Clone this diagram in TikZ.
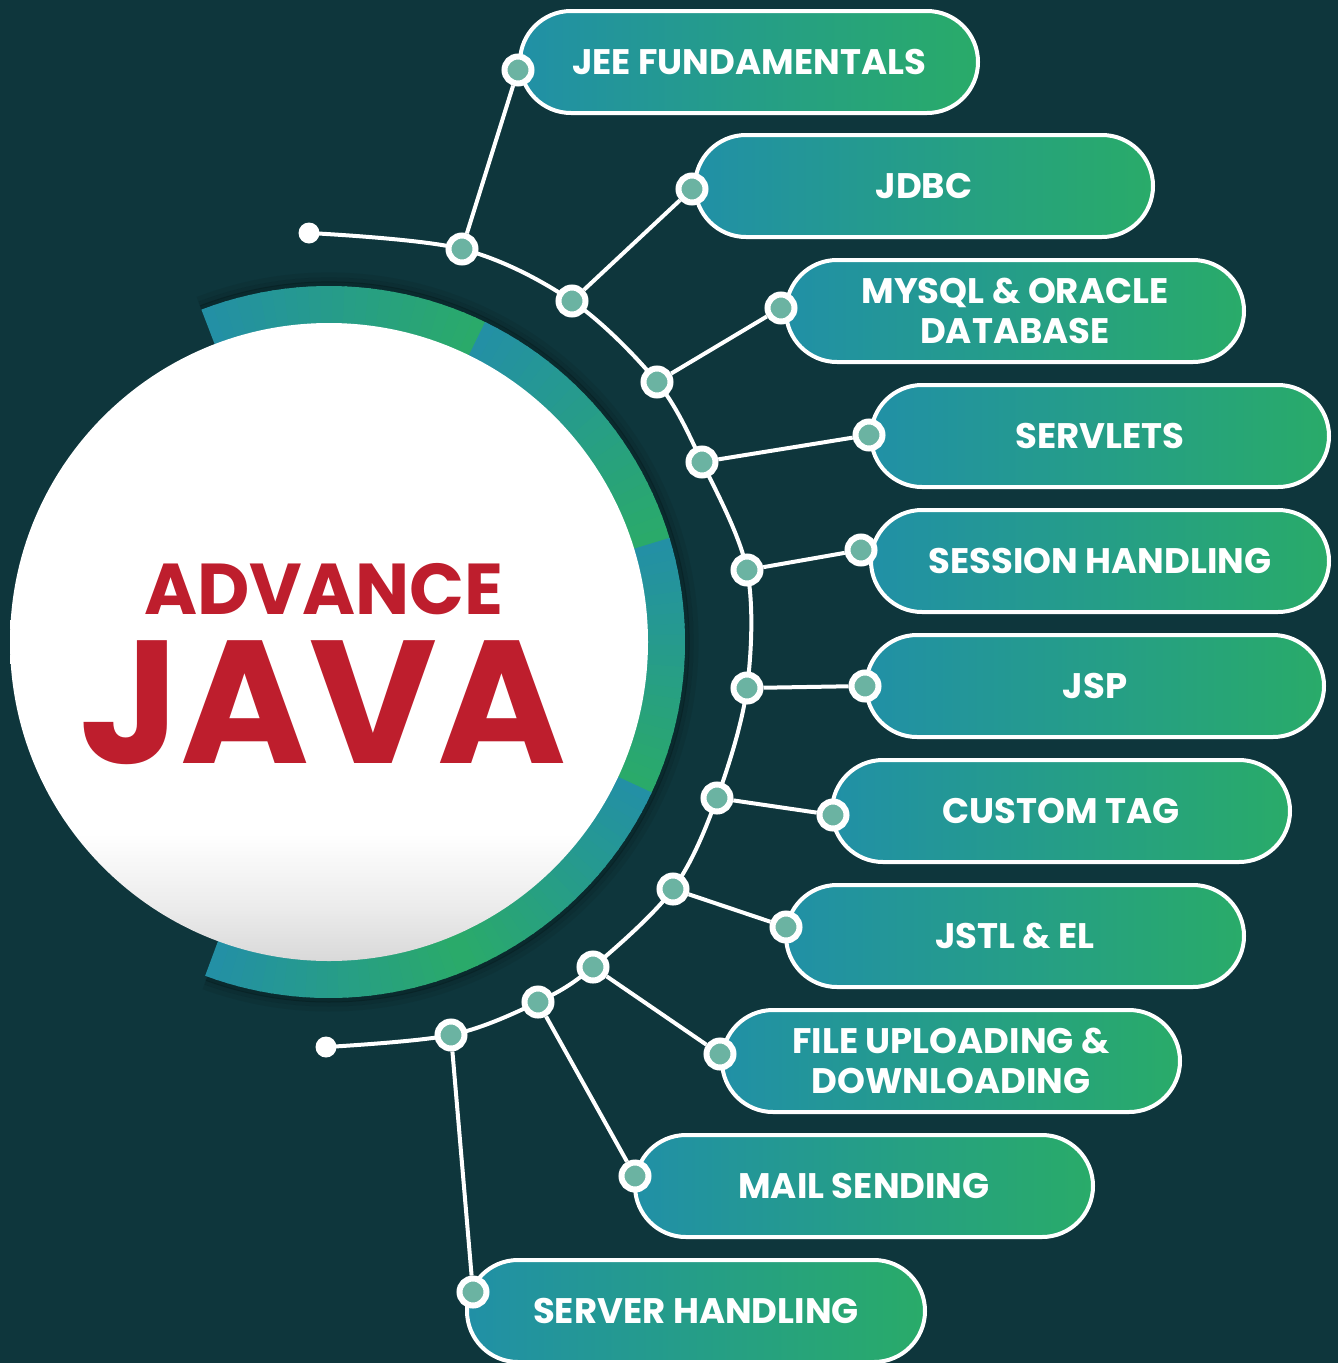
\documentclass[tikz,border=0pt]{standalone}
\usepackage{fontspec}
\setmainfont{Poppins}

\definecolor{bgdark}{HTML}{0E363C}
\definecolor{pillteal}{HTML}{2190A6}
\definecolor{pillgreen}{HTML}{29AB69}
\definecolor{ringteal}{HTML}{2390A5}
\definecolor{ringgreen}{HTML}{2AAA6A}
\definecolor{spotfill}{HTML}{6BB3A2}
\definecolor{javared}{HTML}{BE1E2D}

\pgfdeclareverticalshading{discshade}{100bp}{color(0bp)=(black!15); color(25bp)=(black!15);
  color(29bp)=(black!8); color(35bp)=(white); color(100bp)=(white)}

\tikzset{
  wire/.style={white, line width=4pt},
  spot/.style={circle, draw=white, line width=6pt, fill=spotfill, minimum size=27pt, inner sep=0pt},
  tipdot/.style={circle, fill=white, minimum size=21pt, inner sep=0pt},
  pill/.style={rounded corners=51pt, minimum width=458pt, minimum height=102pt,
    left color=pillteal, right color=pillgreen, draw=white, line width=4pt,
    text=white, font=\bfseries\fontsize{35.5}{40}\selectfont, align=center, inner sep=0pt},
}

\begin{document}
\begin{tikzpicture}[x=1pt,y=1pt]
  \fill[bgdark] (0,0) rectangle (1338,-1363);
  \useasboundingbox (0,0) rectangle (1338,-1363);
  \coordinate (c) at (329,-642);

  % ring segments
  \begin{scope}[shift={(c)}]
    \foreach \r/\o in {358/0.22, 362/0.14, 367/0.07}
      \draw[black, opacity=\o, line width=5pt] (111:\r) arc[start angle=111, end angle=-110, radius=\r];
    \foreach \a/\b/\f in {111/64/0, 64/17/0, 17/-25/0, -25/-67/0, -67/-110/1} {
      \foreach \k in {0,...,23} {
        \pgfmathsetmacro\s{\a-(\a-\b)*\k/24}
        \pgfmathsetmacro\e{\a-(\a-\b)*(\k+1.2)/24}
        \pgfmathsetmacro\p{ifthenelse(\f==1, 100-100*\k/23, 100*\k/23)}
        \fill[ringgreen!\p!ringteal] (\s:318) arc[start angle=\s, end angle=\e, radius=318]
          -- (\e:356) arc[start angle=\e, end angle=\s, radius=356] -- cycle;
      }
    }
  \end{scope}

  \shade[shading=discshade] (c) circle[radius=319];
  \node[text=javared, font=\bfseries\fontsize{72}{72}\selectfont, inner sep=0pt] (adv) at (324,-589) {ADVANCE};
  \node[text=javared, font=\bfseries\fontsize{175}{175}\selectfont, inner sep=0pt] (java) at (323,-703) {JAVA};

  % main arc
  \node[tipdot] (e1) at (309,-233) {};
  \node[tipdot] (e2) at (326,-1047) {};
  \foreach \i/\x/\y in {1/462/-249, 2/572/-301, 3/657/-382, 4/702/-462, 5/747/-570, 6/747/-688,
      7/717/-798, 8/673/-889, 9/593/-967, 10/538/-1002, 11/451/-1035}
    \coordinate (ca\i) at (\x,\y);
  \draw[wire] plot[smooth, tension=0.55] coordinates {(e1.center) (ca1) (ca2) (ca3) (ca4) (ca5) (ca6)
    (ca7) (ca8) (ca9) (ca10) (ca11) (e2.center)};
  \foreach \i in {1,...,11}
    \node[spot] (a\i) at (ca\i) {};

  % topics
  \foreach \i/\x/\y/\dx/\dy/\txt in {
      1/749/-62/518/-70/{JEE FUNDAMENTALS},
      2/924/-186/692/-189/{JDBC},
      3/1015/-311/781/-308/{MYSQL \& ORACLE\\DATABASE},
      4/1100/-436/869/-435/{SERVLETS},
      5/1100/-561/861/-550/{SESSION HANDLING},
      6/1095/-686/865/-686/{JSP},
      7/1061/-811/833/-815/{CUSTOM TAG},
      8/1015/-936/786/-927/{JSTL \& EL},
      9/951/-1061/720/-1054/{FILE UPLOADING \&\\DOWNLOADING},
      10/864/-1186/635/-1176/{MAIL SENDING},
      11/696/-1311/473/-1292/{SERVER HANDLING}} {
    \node[pill] (p\i) at (\x,\y) {\txt};
    \node[spot] (d\i) at (\dx,\dy) {};
    \draw[wire] (a\i) -- (d\i);
  }
\end{tikzpicture}
\end{document}
